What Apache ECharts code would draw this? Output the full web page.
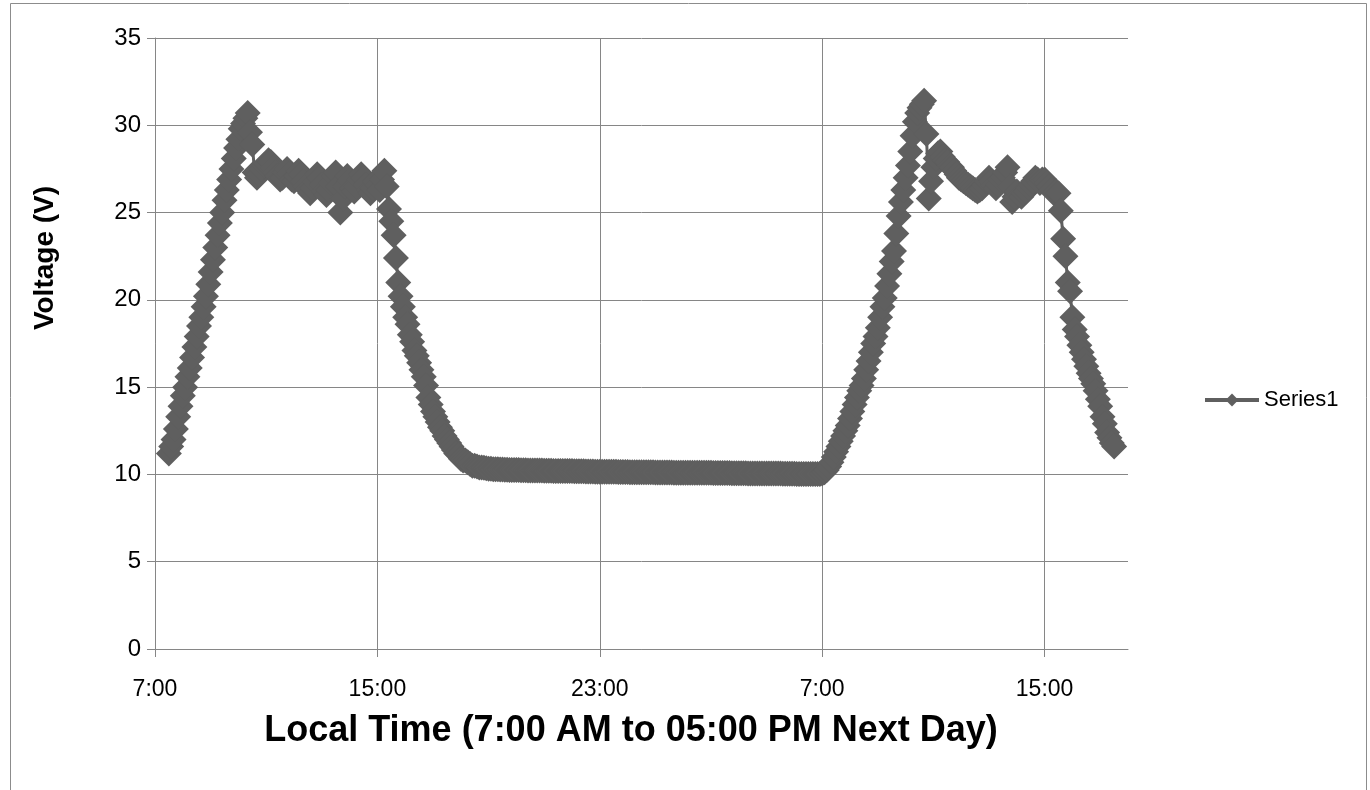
<!DOCTYPE html>
<html>
<head>
<meta charset="utf-8">
<script src="https://cdn.jsdelivr.net/npm/echarts@6/dist/echarts.min.js"></script>
<style>
html,body{margin:0;padding:0;background:#fff;}
#chart{width:1370px;height:790px;}
</style>
</head>
<body>
<div id="chart"></div>
<script>
// Sampling: one reading every 5 minutes, first reading at 7:30 AM (day 1).
// Each row below = one hour of readings (12 values), row k starts at 7:30 + k hours.
const startHour = 0.5;          // hours after 7:00 AM
const stepHours = 5 / 60;       // 5-minute sampling
const seriesName = 'Series1';
const xTickValues = [0, 8, 16, 24, 32];
const yTickValues = [0, 5, 10, 15, 20, 25, 30, 35];
const voltage = [
  // day 1
  11.2, 11.6, 12.0, 12.6, 13.3, 13.9, 14.5, 15.0, 15.6, 16.1, 16.7, 17.3,   // 7:30
  17.9, 18.5, 19.0, 19.6, 20.2, 20.9, 21.6, 22.3, 23.0, 23.7, 24.4, 25.0,   // 8:30
  25.7, 26.3, 26.9, 27.5, 28.1, 28.7, 29.2, 29.8, 30.1, 30.4, 30.7, 29.6,   // 9:30
  28.9, 27.3, 27.0, 27.2, 27.5, 27.7, 27.8, 28.0, 27.9, 27.6, 27.3, 27.1,   // 10:30
  26.9, 27.0, 27.3, 27.5, 27.2, 26.9, 26.8, 27.1, 27.4, 27.2, 26.8, 26.5,   // 11:30
  26.3, 26.1, 26.4, 26.8, 27.2, 27.0, 26.6, 26.2, 26.0, 26.3, 26.7, 27.1,   // 12:30
  27.3, 26.5, 25.0, 25.8, 26.5, 27.1, 26.8, 26.4, 26.2, 26.5, 26.9, 27.2,   // 13:30
  27.0, 26.6, 26.3, 26.1, 26.4, 26.8, 26.6, 26.3, 26.9, 27.4, 26.5, 25.2,   // 14:30
  24.5, 23.7, 22.4, 21.0, 20.2, 19.6, 19.0, 18.6, 18.0, 17.6, 17.1, 16.8,   // 15:30
  16.4, 16.0, 15.6, 15.1, 14.4, 14.0, 13.6, 13.3, 13.0, 12.7, 12.5, 12.2,   // 16:30
  12.0, 11.8, 11.6, 11.4, 11.2, 11.1, 10.9, 10.8, 10.8, 10.7, 10.6, 10.5,   // 17:30
  10.5, 10.45, 10.4, 10.4, 10.38, 10.35, 10.33, 10.32, 10.3, 10.3, 10.3, 10.28,   // 18:30
  10.28, 10.27, 10.27, 10.26, 10.26, 10.25, 10.25, 10.25, 10.24, 10.24, 10.24, 10.23, // 19:30
  10.23, 10.23, 10.22, 10.22, 10.22, 10.22, 10.21, 10.21, 10.21, 10.21, 10.2, 10.2,   // 20:30
  10.2, 10.2, 10.2, 10.19, 10.19, 10.19, 10.19, 10.18, 10.18, 10.18, 10.18, 10.18,   // 21:30
  10.17, 10.17, 10.17, 10.17, 10.16, 10.16, 10.16, 10.16, 10.16, 10.15, 10.15, 10.15, // 22:30
  10.15, 10.15, 10.14, 10.14, 10.14, 10.14, 10.14, 10.13, 10.13, 10.13, 10.13, 10.13, // 23:30
  10.12, 10.12, 10.12, 10.12, 10.12, 10.12, 10.11, 10.11, 10.11, 10.11, 10.11, 10.11, // 0:30
  10.11, 10.11, 10.1, 10.1, 10.1, 10.1, 10.1, 10.1, 10.1, 10.1, 10.1, 10.1,         // 1:30
  10.1, 10.09, 10.09, 10.09, 10.09, 10.09, 10.09, 10.08, 10.08, 10.08, 10.08, 10.08, // 2:30
  10.08, 10.08, 10.08, 10.07, 10.07, 10.07, 10.07, 10.07, 10.07, 10.07, 10.06, 10.06, // 3:30
  10.06, 10.06, 10.06, 10.06, 10.06, 10.05, 10.05, 10.05, 10.05, 10.05, 10.05, 10.05, // 4:30
  10.05, 10.04, 10.04, 10.04, 10.04, 10.04, 10.04, 10.03, 10.03, 10.03, 10.03, 10.03, // 5:30
  10.03, 10.03, 10.02, 10.02, 10.02, 10.02, 10.05, 10.12, 10.25, 10.45, 10.7, 11.0,   // 6:30
  // day 2
  11.3, 11.6, 11.9, 12.2, 12.5, 12.8, 13.2, 13.6, 14.0, 14.4, 14.8, 15.1,   // 7:30
  15.5, 16.0, 16.5, 17.0, 17.5, 17.9, 18.4, 19.0, 19.6, 20.1, 20.8, 21.5,   // 8:30
  22.2, 22.8, 23.8, 24.8, 25.6, 26.3, 27.0, 27.7, 28.5, 29.4, 30.2, 30.7,   // 9:30
  31.0, 31.2, 31.4, 29.5, 25.8, 26.8, 27.6, 28.1, 28.4, 28.5, 28.2, 28.0,   // 10:30
  27.9, 27.7, 27.6, 27.4, 27.2, 27.0, 26.9, 26.8, 26.7, 26.6, 26.5, 26.4,   // 11:30
  26.3, 26.2, 26.3, 26.4, 26.6, 26.8, 27.0, 26.8, 26.6, 26.4, 26.6, 26.9,   // 12:30
  27.0, 27.3, 27.6, 26.5, 25.6, 25.9, 26.2, 26.0, 25.9, 26.1, 26.2, 26.4,   // 13:30
  26.6, 26.8, 27.0, 26.9, 26.7, 26.9, 26.9, 26.7, 26.5, 26.3, 26.1, 26.2,   // 14:30
  26.1, 25.1, 23.5, 22.5, 21.0, 20.5, 19.0, 18.3, 17.9, 17.4, 17.0, 16.6,   // 15:30
  16.2, 15.8, 15.5, 15.2, 14.8, 14.3, 13.9, 13.3, 12.9, 12.4, 12.1, 11.8,   // 16:30
  11.6                                                                      // 17:30
];

const points = voltage.map((v, i) => [startHour + i * stepHours, v]);
const markColor = '#5f5f5f';
const gridColor = '#868686';
const labelFont = '"Liberation Sans", Arial, sans-serif';

const chart = echarts.init(document.getElementById('chart'), null, {renderer: 'canvas'});
chart.setOption({
  animation: false,
  backgroundColor: '#ffffff',
  grid: {left: 155, right: 242, top: 38, bottom: 141, containLabel: false},
  legend: {
    data: [seriesName],
    left: 1203, top: 389, padding: 0,
    itemWidth: 54, itemHeight: 16, itemGap: 4,
    lineStyle: {width: 4},
    textStyle: {fontFamily: labelFont, fontSize: 22, color: '#000'}
  },
  xAxis: {
    type: 'value', min: 0, max: 35, interval: 8,
    axisLine: {show: true, lineStyle: {color: gridColor, width: 1}},
    axisTick: {show: true, inside: false, length: 8, lineStyle: {color: gridColor}, customValues: xTickValues},
    axisLabel: {
      customValues: xTickValues, margin: 29,
      fontFamily: labelFont, fontSize: 23, color: '#000',
      formatter: v => ((7 + v) % 24) + ':00'
    },
    splitLine: {show: true, lineStyle: {color: gridColor, width: 1}}
  },
  yAxis: {
    type: 'value', min: 0, max: 35, interval: 5,
    axisLine: {show: true, lineStyle: {color: gridColor, width: 1}},
    axisTick: {show: true, inside: false, length: 8, lineStyle: {color: gridColor}},
    axisLabel: {margin: 14, fontFamily: labelFont, fontSize: 24, color: '#000'},
    splitLine: {show: true, lineStyle: {color: gridColor, width: 1}}
  },
  series: [{
    name: seriesName, type: 'line', data: points,
    symbol: 'diamond', symbolSize: 26, showSymbol: true, showAllSymbol: true,
    itemStyle: {color: markColor, borderWidth: 0},
    lineStyle: {color: markColor, width: 3},
    emphasis: {disabled: true}
  }],
  graphic: [
    {type: 'rect', shape: {x: 10.5, y: 3.5, width: 1356, height: 800}, style: {fill: 'none', stroke: '#8c8c8c', lineWidth: 1}, silent: true},
    {type: 'text', x: 45, y: 258, rotation: Math.PI / 2,
     style: {text: 'Voltage (V)', font: 'bold 28px "Liberation Sans", Arial, sans-serif', fill: '#000', align: 'center', verticalAlign: 'middle'}},
    {type: 'text', x: 631, y: 731,
     style: {text: 'Local Time (7:00 AM to 05:00 PM Next Day)', font: 'bold 36px "Liberation Sans", Arial, sans-serif', fill: '#000', align: 'center', verticalAlign: 'middle'}}
  ]
});
</script>
</body>
</html>
